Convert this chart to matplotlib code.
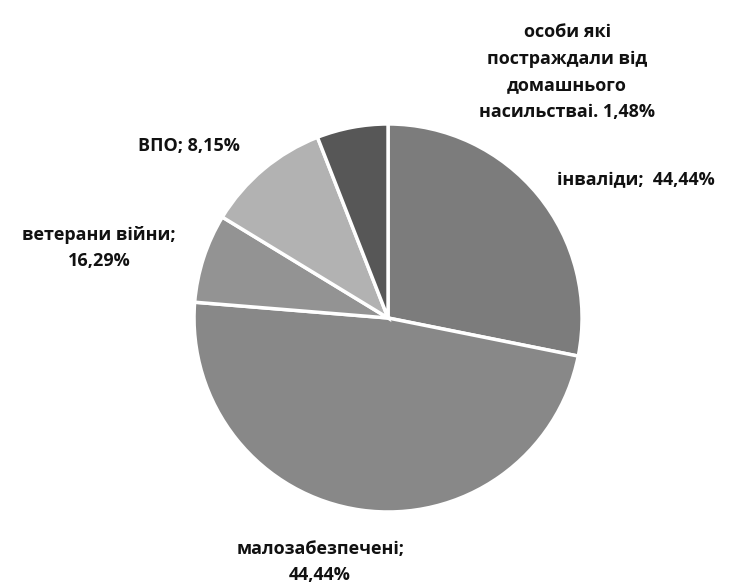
import matplotlib
matplotlib.use("Agg")
import matplotlib.pyplot as plt

categories = ["інваліди", "малозабезпечені", "ветерани війни", "ВПО",
              "особи які постраждали від домашнього насильстваі"]
values = [38, 65, 10, 14, 8]
label_texts = ["інваліди;  44,44%", "малозабезпечені;\n44,44%", "ветерани війни;\n16,29%",
               "ВПО; 8,15%", "особи які\nпостраждали від\nдомашнього\nнасильстваі. 1,48%"]
colors = ["#7c7c7c", "#888888", "#939393", "#b2b2b2", "#575757"]

plt.rcParams['font.family'] = ['Open Sans', 'DejaVu Sans']

fig = plt.figure(figsize=(7.4, 5.83), dpi=100)
ax = fig.add_axes([0, 0, 1, 1])
ax.pie(values, colors=colors, startangle=90, counterclock=False, radius=1.0,
       wedgeprops=dict(edgecolor="white", linewidth=2.5))
ax.set_xlim(-2.0, 1.814)
ax.set_ylim(-1.366, 1.639)
ax.set_aspect("equal")
ax.axis("off")

label_pos = [(0.871, 0.711, "left"), (-0.35, -1.258, "center"), (-1.49, 0.361, "center"),
             (-1.026, 0.887, "center"), (0.923, 1.268, "center")]
for txt, (x, y, ha) in zip(label_texts, label_pos):
    ax.text(x, y, txt, ha=ha, va="center", fontsize=13, fontweight="bold",
            color="#111111", linespacing=1.6, multialignment="center")

fig.savefig("out.png", dpi=100, facecolor="white")
